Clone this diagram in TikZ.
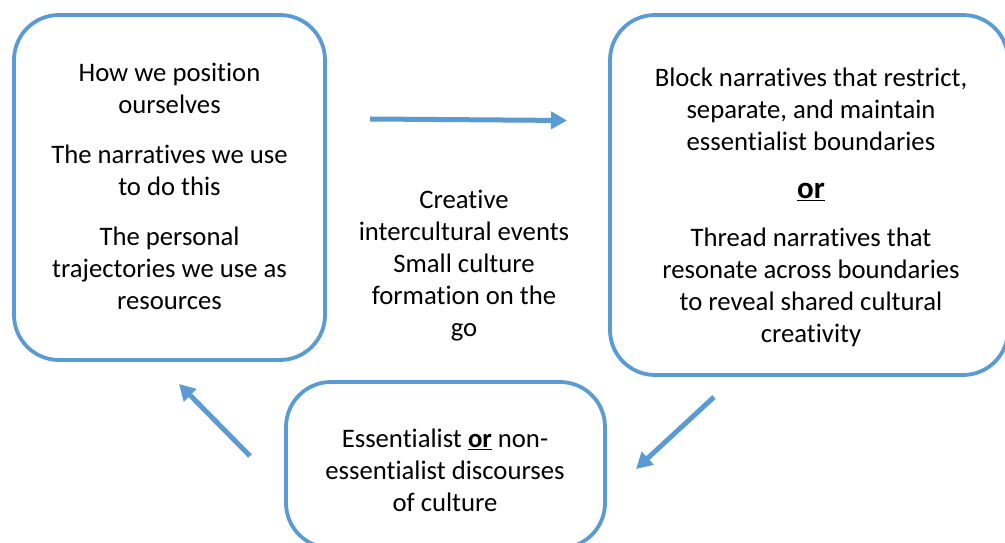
\documentclass[tikz,border=0pt]{standalone}
\usepackage{fontspec}
\setmainfont{Carlito}[RawFeature=-liga]
\usetikzlibrary{arrows.meta}
\definecolor{boxblue}{HTML}{5B9BD5}
\tikzset{
  roundbox/.style={draw=boxblue, line width=3.8pt, rounded corners=45pt, fill=white, inner sep=0pt},
  label26/.style={align=center, inner sep=0pt, text=black, font={\fontsize{26.7}{32}\selectfont}},
  conn/.style={draw=boxblue, line width=5pt, -{Triangle[length=16pt,width=17pt]}}
}
\begin{document}
\begin{tikzpicture}[x=1pt,y=1pt]
\useasboundingbox (0,0) rectangle (1005,543);
\fill[white] (0,0) rectangle (1005,543);
% boxes
\node[roundbox, minimum width=311pt, minimum height=345pt] (L) at (169.5,355.5) {};
\node[roundbox, minimum width=398pt, minimum height=360pt] (R) at (809,348) {};
\node[roundbox, minimum width=319pt, minimum height=166pt] (B) at (445.5,78) {};
% texts
\node[label26] (Ltext) at (169.5,357) {How we position\\ourselves\\[18pt]The narratives we use\\to do this\\[18pt]The personal\\trajectories we use as\\resources};
\node[label26] (Rtext) at (811,336) {Block narratives that restrict,\\separate, and maintain\\essentialist boundaries\\[16pt]{\fontsize{31}{32}\selectfont\underline{\textbf{or}}}\\[16pt]Thread narratives that\\resonate across boundaries\\to reveal shared cultural\\creativity};
\node[label26] (Mtext) at (464,277) {Creative\\intercultural events\\Small culture\\formation on the\\go};
\node[label26] (Btext) at (445,73) {Essentialist \underline{\textbf{or}} non-\\essentialist discourses\\of culture};
% arrows
\coordinate (a1s) at (370,424);
\coordinate (a1e) at (567,422.5);
\coordinate (a2s) at (714,146);
\coordinate (a2e) at (636,74);
\coordinate (a3s) at (250,87);
\coordinate (a3e) at (179,159);
\draw[conn] (a1s) -- (a1e);
\draw[conn] (a2s) -- (a2e);
\draw[conn] (a3s) -- (a3e);
\end{tikzpicture}
\end{document}
